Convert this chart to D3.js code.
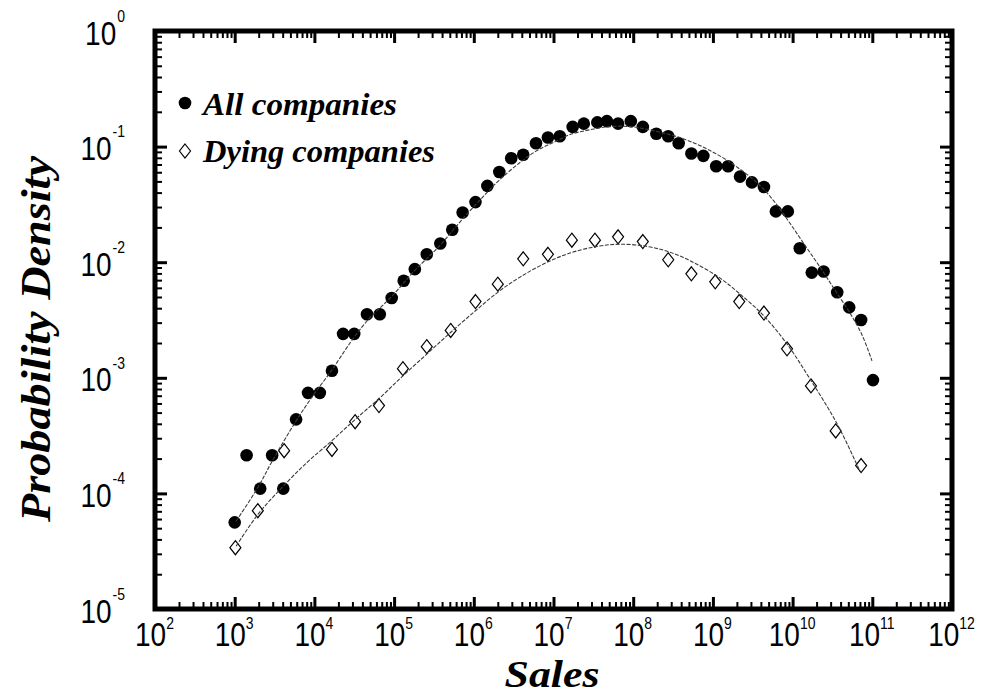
<!DOCTYPE html>
<html><head><meta charset="utf-8">
<script src="https://cdn.jsdelivr.net/npm/d3@7"></script>
<style>body{margin:0;background:#fff}svg{display:block}</style>
</head><body>
<svg id="chart" width="981" height="696"></svg>
<script>
// ---- data ----
const allSales = [1.00e3,1.41e3,2.09e3,2.95e3,4.07e3,5.89e3,8.32e3,1.17e4,1.66e4,2.29e4,3.16e4,4.57e4,6.61e4,9.33e4,1.32e5,1.82e5,2.57e5,3.80e5,5.37e5,7.24e5,1.05e6,1.48e6,2.09e6,2.95e6,4.17e6,6.03e6,8.51e6,1.20e7,1.74e7,2.40e7,3.55e7,4.68e7,6.46e7,9.33e7,1.32e8,1.95e8,2.75e8,3.72e8,5.37e8,7.59e8,1.10e9,1.55e9,2.19e9,3.09e9,4.37e9,6.17e9,8.71e9,1.23e10,1.74e10,2.45e10,3.63e10,5.13e10,7.24e10,1.02e11];
const allDensity = [5.62e-5,2.14e-4,1.10e-4,2.14e-4,1.10e-4,4.37e-4,7.41e-4,7.41e-4,1.15e-3,2.40e-3,2.40e-3,3.55e-3,3.55e-3,4.90e-3,6.92e-3,8.71e-3,1.17e-2,1.45e-2,1.91e-2,2.69e-2,3.31e-2,4.57e-2,6.03e-2,7.94e-2,8.51e-2,1.07e-1,1.20e-1,1.23e-1,1.48e-1,1.58e-1,1.62e-1,1.66e-1,1.58e-1,1.66e-1,1.48e-1,1.29e-1,1.23e-1,1.07e-1,8.71e-2,8.32e-2,6.76e-2,6.76e-2,5.50e-2,4.90e-2,4.47e-2,2.75e-2,2.75e-2,1.32e-2,8.13e-3,8.32e-3,5.50e-3,4.07e-3,3.16e-3,9.55e-4];

const dyingSales = [1.02e3,1.95e3,4.17e3,1.66e4,3.24e4,6.46e4,1.29e5,2.57e5,5.13e5,1.05e6,2.00e6,4.17e6,8.51e6,1.70e7,3.31e7,6.46e7,1.32e8,2.75e8,5.37e8,1.07e9,2.14e9,4.37e9,8.51e9,1.70e10,3.47e10,7.24e10];
const dyingDensity = [3.39e-5,7.08e-5,2.34e-4,2.40e-4,4.17e-4,5.75e-4,1.20e-3,1.86e-3,2.57e-3,4.57e-3,6.46e-3,1.07e-2,1.17e-2,1.55e-2,1.55e-2,1.66e-2,1.51e-2,1.05e-2,7.94e-3,6.76e-3,4.57e-3,3.63e-3,1.78e-3,8.51e-4,3.47e-4,1.74e-4];

const allFitSales = [1.04e3,1.96e3,2.94e3,5.71e3,9.59e3,1.66e4,2.80e4,4.57e4,9.42e4,1.78e5,3.77e5,7.33e5,1.47e6,2.13e6,3.80e6,6.21e6,1.04e7,1.61e7,2.87e7,5.12e7,9.12e7,1.99e8,4.22e8,9.20e8,1.89e9,3.90e9,6.01e9,9.27e9,1.43e10,2.21e10,3.40e10,5.25e10,7.43e10,9.91e10];
const allFitDensity = [5.74e-5,1.13e-4,1.89e-4,4.09e-4,7.00e-4,1.17e-3,2.00e-3,3.10e-3,5.09e-3,8.36e-3,1.40e-2,2.39e-2,4.01e-2,5.20e-2,7.28e-2,9.25e-2,1.10e-1,1.27e-1,1.40e-1,1.49e-1,1.49e-1,1.35e-1,1.17e-1,9.25e-2,6.85e-2,4.61e-2,3.29e-2,2.17e-2,1.40e-2,9.06e-3,5.74e-3,3.63e-3,2.35e-3,1.40e-3];

const dyingFitSales = [1.04e3,1.96e3,4.04e3,8.07e3,1.66e4,3.23e4,6.65e4,1.29e5,2.59e5,5.02e5,1.04e6,2.01e6,3.80e6,7.82e6,1.61e7,3.52e7,6.82e7,1.49e8,2.90e8,5.62e8,1.23e9,2.19e9,4.26e9,8.51e9,1.65e10,3.61e10,7.01e10];
const dyingFitDensity = [3.49e-5,6.59e-5,1.15e-4,1.85e-4,2.86e-4,4.35e-4,6.73e-4,1.04e-3,1.61e-3,2.44e-3,3.78e-3,5.51e-3,7.43e-3,9.79e-3,1.20e-2,1.37e-2,1.43e-2,1.37e-2,1.22e-2,1.00e-2,7.28e-3,5.30e-3,3.49e-3,1.96e-3,9.79e-4,4.01e-4,1.55e-4];

const xTickExponents = [2,3,4,5,6,7,8,9,10,11,12];
const yTickExponents = [0,-1,-2,-3,-4,-5];
const legendLabels = ["All companies", "Dying companies"];
const xTitle = "Sales";
const yTitle = "Probability Density";

// ---- layout ----
const plot = {left: 155, right: 952, top: 31, bottom: 609};
const x = d3.scaleLog().domain([1e2, 1e12]).range([plot.left, plot.right]);
const y = d3.scaleLog().domain([1e-5, 1]).range([plot.bottom, plot.top]);
const svg = d3.select("#chart");

const xMajor = xTickExponents.map(e => Math.pow(10, e));
const yMajor = yTickExponents.map(e => Math.pow(10, e));
const xMinor = [], yMinor = [];
for (let e = 2; e < 12; e++) for (let m = 2; m <= 9; m++) xMinor.push(m * Math.pow(10, e));
for (let e = -5; e < 0; e++) for (let m = 2; m <= 9; m++) yMinor.push(m * Math.pow(10, e));

function tickAxis(axisFn, scale, translate, values, size, width) {
  const g = svg.append("g").attr("transform", translate)
    .call(axisFn(scale).tickValues(values).tickSize(size).tickFormat(""));
  g.select(".domain").remove();
  g.selectAll(".tick line").attr("stroke", "#000").attr("stroke-width", width);
  return g;
}

// minor ticks
tickAxis(d3.axisBottom, x, `translate(0,${plot.bottom})`, xMinor, -7, 2);
tickAxis(d3.axisTop, x, `translate(0,${plot.top})`, xMinor, -7, 2);
tickAxis(d3.axisLeft, y, `translate(${plot.left},0)`, yMinor, -7, 2);
tickAxis(d3.axisRight, y, `translate(${plot.right},0)`, yMinor, -7, 2);
// major ticks
const gx = tickAxis(d3.axisBottom, x, `translate(0,${plot.bottom})`, xMajor, -12, 3);
tickAxis(d3.axisTop, x, `translate(0,${plot.top})`, xMajor, -12, 3);
const gy = tickAxis(d3.axisLeft, y, `translate(${plot.left},0)`, yMajor, -12, 3);
tickAxis(d3.axisRight, y, `translate(${plot.right},0)`, yMajor, -12, 3);

// frame
svg.append("rect")
  .attr("x", plot.left).attr("y", plot.top)
  .attr("width", plot.right - plot.left).attr("height", plot.bottom - plot.top)
  .attr("fill", "none").attr("stroke", "#000").attr("stroke-width", 5);

// tick labels (10 with superscript exponent)
gx.selectAll(".tick").each(function(d, i) {
  const t = d3.select(this).append("g")
    .attr("transform", "translate(-1,37) scale(1,1.2)")
    .append("text")
    .attr("text-anchor", "middle")
    .attr("font-family", "'Liberation Sans', Arial, sans-serif")
    .attr("font-size", 28).attr("fill", "#000");
  t.append("tspan").text("10");
  t.append("tspan").attr("font-size", 14).attr("dy", -14).text(xTickExponents[i]);
});
gy.selectAll(".tick").each(function(d, i) {
  const t = d3.select(this).append("g")
    .attr("transform", "translate(-30,13) scale(1,1.2)")
    .append("text")
    .attr("text-anchor", "end")
    .attr("font-family", "'Liberation Sans', Arial, sans-serif")
    .attr("font-size", 28).attr("fill", "#000");
  t.append("tspan").text("10");
  t.append("tspan").attr("font-size", 14).attr("dy", -19).attr("dx", 1).text(String(yTickExponents[i]));
});

// axis titles
svg.append("text")
  .attr("x", 552).attr("y", 687)
  .attr("text-anchor", "middle")
  .attr("font-family", "'Liberation Serif', 'Times New Roman', serif")
  .attr("font-weight", "bold").attr("font-style", "italic")
  .attr("font-size", 37)
  .attr("textLength", 95).attr("lengthAdjust", "spacingAndGlyphs")
  .text(xTitle);
svg.append("text")
  .attr("transform", "translate(50,339) rotate(-90)")
  .attr("text-anchor", "middle")
  .attr("font-family", "'Liberation Serif', 'Times New Roman', serif")
  .attr("font-weight", "bold").attr("font-style", "italic")
  .attr("font-size", 42)
  .attr("textLength", 366).attr("lengthAdjust", "spacingAndGlyphs")
  .text(yTitle);

// fitted curves
const line = d3.line().x(d => x(d[0])).y(d => y(d[1])).curve(d3.curveCatmullRom.alpha(0.5));
const diamond = "M0,-7L5.5,0L0,7L-5.5,0Z";

// markers
svg.append("g").selectAll("circle")
  .data(d3.zip(allSales, allDensity)).join("circle")
  .attr("cx", d => x(d[0])).attr("cy", d => y(d[1])).attr("r", 6.3)
  .attr("fill", "#000");
svg.append("g").selectAll("path")
  .data(d3.zip(dyingSales, dyingDensity)).join("path")
  .attr("transform", d => `translate(${x(d[0])},${y(d[1])})`)
  .attr("d", diamond)
  .attr("fill", "none").attr("stroke", "#000").attr("stroke-width", 1.2);

[[allFitSales, allFitDensity], [dyingFitSales, dyingFitDensity]].forEach(([xs, ys]) => {
  svg.append("path")
    .attr("d", line(d3.zip(xs, ys)))
    .attr("fill", "none").attr("stroke", "#3a3a3a").attr("stroke-width", 1.1)
    .attr("stroke-dasharray", "4,1.5");
});

// legend
const legend = svg.append("g");
legend.append("circle").attr("cx", 185).attr("cy", 103).attr("r", 6.3).attr("fill", "#000");
legend.append("path").attr("transform", "translate(185,151)").attr("d", diamond)
  .attr("fill", "none").attr("stroke", "#000").attr("stroke-width", 1.2);
const legendY = [115, 162];
const legendLen = [194, 232];
legendLabels.forEach((lab, i) => {
  legend.append("text")
    .attr("x", 203).attr("y", legendY[i])
    .attr("font-family", "'Liberation Serif', 'Times New Roman', serif")
    .attr("font-weight", "bold").attr("font-style", "italic")
    .attr("font-size", 32)
    .attr("textLength", legendLen[i]).attr("lengthAdjust", "spacingAndGlyphs")
    .text(lab);
});
</script>
</body></html>
